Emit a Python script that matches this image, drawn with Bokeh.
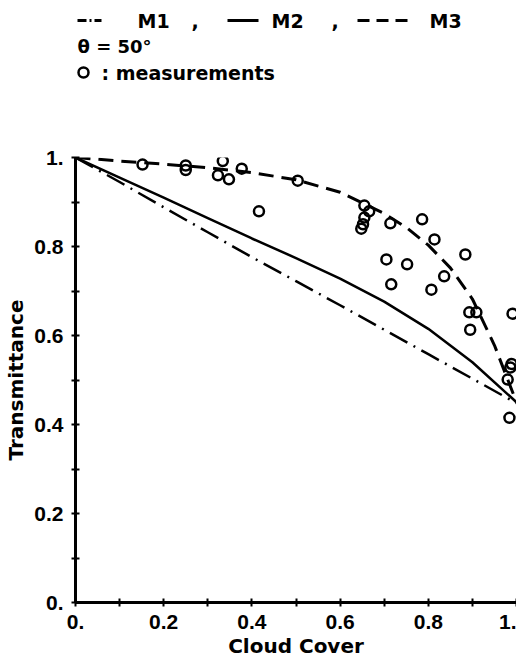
from bokeh.plotting import figure
from bokeh.layouts import column
from bokeh.models import Range1d, FixedTicker
from bokeh.core.properties import value
from bokeh.embed import file_html
from bokeh.resources import INLINE

# ---- data ----
model_x = [0.0, 0.1, 0.2, 0.3, 0.4, 0.5, 0.6, 0.7, 0.8, 0.9, 1.0]
m1_trans = [1.0, 0.945, 0.888, 0.832, 0.776, 0.722, 0.668, 0.613, 0.558, 0.503, 0.448]
m2_trans = [1.0, 0.955, 0.910, 0.864, 0.818, 0.774, 0.728, 0.676, 0.615, 0.540, 0.450]
m3_x = [0.0, 0.1, 0.2, 0.3, 0.4, 0.5, 0.6, 0.7, 0.75, 0.8, 0.85, 0.9, 0.95, 1.0]
m3_trans = [1.0, 0.992, 0.985, 0.977, 0.966, 0.950, 0.922, 0.874, 0.843, 0.803, 0.752, 0.682, 0.578, 0.450]

meas_cloud = [0.152, 0.250, 0.250, 0.334, 0.323, 0.348, 0.377, 0.416, 0.504,
              0.655, 0.666, 0.655, 0.652, 0.648, 0.714, 0.786, 0.814, 0.884,
              0.705, 0.752, 0.836, 0.716, 0.807, 0.893, 0.909, 0.895, 0.991,
              0.989, 0.986, 0.980, 0.984]
meas_trans = [0.984, 0.982, 0.972, 0.992, 0.960, 0.951, 0.975, 0.879, 0.948,
              0.892, 0.879, 0.865, 0.850, 0.840, 0.852, 0.861, 0.816, 0.782,
              0.771, 0.760, 0.733, 0.715, 0.703, 0.652, 0.652, 0.613, 0.649,
              0.536, 0.528, 0.501, 0.415]

tick_values = [0.0, 0.2, 0.4, 0.6, 0.8, 1.0]
tick_labels = ["0.", "0.2", "0.4", "0.6", "0.8", "1."]
minor_values = [0.1, 0.3, 0.5, 0.7, 0.9]

legend_labels = ["M1", ",", "M2", ",", "M3"]
theta_text = "θ = 50°"
meas_text = ": measurements"

BLACK = "#000000"
FONT = "DejaVu Sans"
TICKFONT = "Liberation Sans"

# ---- legend block (page-pixel coordinates; its frame is aligned with the plot frame 75..516) ----
leg = figure(width=516, height=129, x_range=Range1d(75, 516), y_range=Range1d(129, 0),
             output_backend="svg", toolbar_location=None, min_border=0,
             min_border_left=75, min_border_right=0)
leg.axis.visible = False
leg.grid.visible = False
leg.outline_line_color = None

leg.segment(x0=[77], y0=[20], x1=[101], y1=[20], line_color=BLACK, line_width=3,
            line_dash="9 3 2 3")
leg.segment(x0=[227], y0=[20], x1=[258], y1=[20], line_color=BLACK, line_width=3)
leg.segment(x0=[357], y0=[20], x1=[414], y1=[20], line_color=BLACK, line_width=3,
            line_dash="12 7")
leg.text(x=[137, 191, 271, 331, 429], y=[20, 20, 20, 20, 20], text=legend_labels,
         text_font=value(FONT), text_font_style="bold", text_font_size="19px",
         text_baseline="middle", text_align="left", text_color=BLACK)
leg.text(x=[77], y=[46], text=[theta_text],
         text_font=value(FONT), text_font_style="bold", text_font_size="18px",
         text_baseline="middle", text_align="left", text_color=BLACK)
leg.scatter(x=[83], y=[72], marker="circle", size=10, line_width=2.5,
            line_color=BLACK, fill_color=None)
leg.text(x=[101], y=[72], text=[meas_text],
         text_font=value(FONT), text_font_style="bold", text_font_size="19px",
         text_baseline="middle", text_align="left", text_color=BLACK)

# ---- main plot ----
p = figure(frame_width=441, frame_height=445, x_range=Range1d(0, 1), y_range=Range1d(0, 1),
           output_backend="svg", toolbar_location=None,
           min_border_left=75, min_border_right=0, min_border_top=28, min_border_bottom=0)
p.grid.visible = False
p.outline_line_color = None
p.background_fill_color = "white"

p.line(model_x, m1_trans, line_color=BLACK, line_width=2.5, line_dash="20 7 2 7")
p.line(model_x, m2_trans, line_color=BLACK, line_width=2.5)
p.line(m3_x, m3_trans, line_color=BLACK, line_width=3, line_dash="15 8")
p.scatter(meas_cloud, meas_trans, marker="circle", size=10, line_width=2.5,
          line_color=BLACK, fill_color=None)

overrides = {t: l for t, l in zip(tick_values, tick_labels)}
for ax in (p.xaxis[0], p.yaxis[0]):
    ax.ticker = FixedTicker(ticks=tick_values, minor_ticks=minor_values)
    ax.major_label_overrides = overrides
    ax.axis_line_width = 3
    ax.axis_line_color = BLACK
    ax.major_tick_in = 4
    ax.major_tick_out = 4
    ax.minor_tick_in = 4
    ax.minor_tick_out = 4
    ax.major_tick_line_width = 2
    ax.minor_tick_line_width = 2
    ax.major_tick_line_color = BLACK
    ax.minor_tick_line_color = BLACK
    ax.major_label_text_font = TICKFONT
    ax.major_label_text_font_style = "bold"
    ax.major_label_text_font_size = "21px"
    ax.major_label_text_color = BLACK
    ax.axis_label_text_font = FONT
    ax.axis_label_text_font_style = "bold"
    ax.axis_label_text_font_size = "20px"
    ax.axis_label_text_color = BLACK

p.xaxis.axis_label = "Cloud Cover"
p.yaxis.axis_label = "Transmittance"
p.xaxis.major_label_standoff = 8
p.xaxis.axis_label_standoff = 2
p.yaxis.major_label_standoff = 8
p.yaxis.axis_label_standoff = 3

layout = column(leg, p, spacing=0)
open("out.html", "w").write(file_html(layout, INLINE))
